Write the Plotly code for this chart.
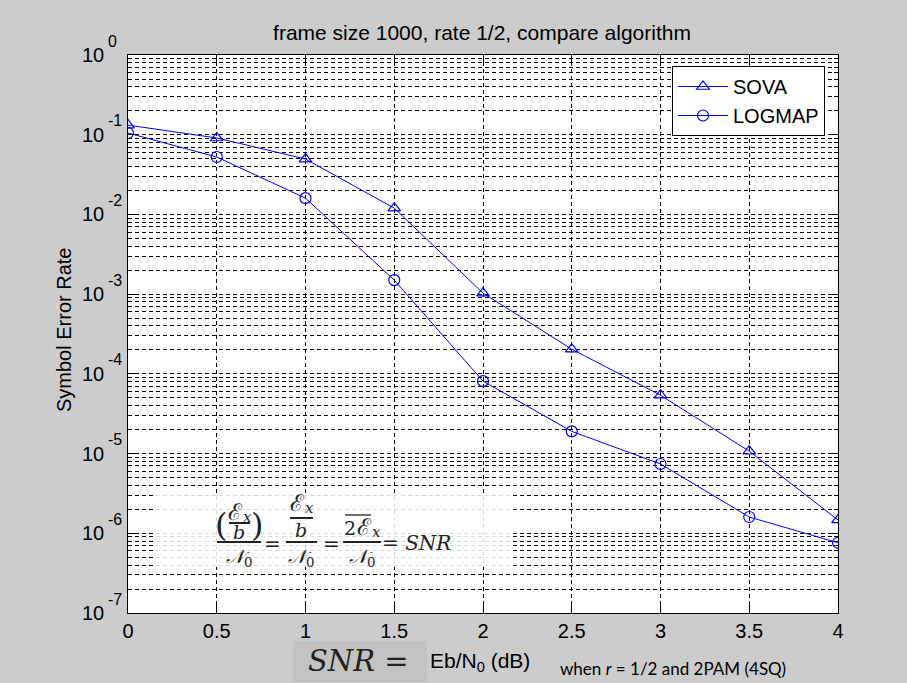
import math
import plotly.graph_objects as go

# ---------------- data ----------------
snr_db = [0, 0.5, 1, 1.5, 2, 2.5, 3, 3.5, 4]
sova = [0.132, 0.091, 0.0495, 0.012, 1.03e-3, 2.04e-4, 5.4e-5, 1.07e-5, 1.47e-6]
logmap = [0.105, 0.0525, 0.016, 1.5e-3, 8.1e-5, 1.9e-5, 7.4e-6, 1.6e-6, 7.6e-7]
series_names = ["SOVA", "LOGMAP"]
x_tick_vals = [0, 0.5, 1, 1.5, 2, 2.5, 3, 3.5, 4]
x_tick_text = ["0", "0.5", "1", "1.5", "2", "2.5", "3", "3.5", "4"]
y_tick_vals = [1e-7, 1e-6, 1e-5, 1e-4, 1e-3, 1e-2, 1e-1, 1]
y_tick_base = "10"
y_exponents = ["-7", "-6", "-5", "-4", "-3", "-2", "-1", "0"]
title_text = "frame size 1000, rate 1/2, compare algorithm"
y_title = "Symbol Error Rate"

W, H = 907, 683
L, R, T, B = 128, 838, 55, 613


def px(x):
    return (x - L) / (R - L)


def py(y):
    return 1 - (y - T) / (B - T)


SANS = "Liberation Sans, Arial, sans-serif"
SERIF = "DejaVu Serif, Liberation Serif, serif"

fig = go.Figure()
fig.add_trace(go.Scatter(x=snr_db, y=sova, name=series_names[0], mode="lines+markers",
                         line=dict(color="#0000ff", width=1),
                         marker=dict(symbol="triangle-up-open", size=11,
                                     color="#0000ff", line=dict(width=1.2, color="#0000ff"))))
fig.add_trace(go.Scatter(x=snr_db, y=logmap, name=series_names[1], mode="lines+markers",
                         line=dict(color="#0000ff", width=1),
                         marker=dict(symbol="circle-open", size=11,
                                     color="#0000ff", line=dict(width=1.2, color="#0000ff"))))

grid_dash = "4px,3px"
fig.update_layout(
    width=W, height=H,
    margin=dict(l=L, r=W - R, t=T, b=H - B, pad=0),
    paper_bgcolor="#cccccc", plot_bgcolor="white",
    font=dict(family=SANS, size=20, color="black"),
    title=dict(text=title_text, x=px(482), xref="paper", xanchor="center",
               y=1 - 33 / H, yref="container", yanchor="middle",
               font=dict(family=SANS, size=21, color="black")),
    showlegend=True,
    legend=dict(x=px(825), y=py(66), xanchor="right", yanchor="top",
                bgcolor="white", bordercolor="black", borderwidth=1,
                font=dict(family=SANS, size=20, color="black"),
                itemwidth=50, tracegroupgap=0),
    xaxis=dict(range=[0, 4], tickvals=x_tick_vals, ticktext=x_tick_text,
               showgrid=True, gridcolor="black", griddash=grid_dash, gridwidth=1,
               showline=True, linecolor="black", linewidth=1, mirror="ticks",
               ticks="inside", ticklen=8, tickcolor="black", zeroline=False,
               automargin=False, tickfont=dict(size=20)),
    yaxis=dict(type="log", range=[-7, 0], tickvals=y_tick_vals, showticklabels=False,
               showgrid=True, gridcolor="black", griddash=grid_dash, gridwidth=1,
               showline=True, linecolor="black", linewidth=1, mirror="ticks",
               ticks="inside", ticklen=8, tickcolor="black", zeroline=False,
               automargin=False,
               minor=dict(dtick="D1", showgrid=True, gridcolor="black",
                          griddash=grid_dash, gridwidth=1, ticks="inside",
                          ticklen=4, tickcolor="black")),
)

ann = []
shapes = []

# y tick labels: "10" + larger superscript exponent, positioned on the y scale
for v, e in zip(y_tick_vals, y_exponents):
    ann.append(dict(text=y_tick_base, x=px(106), xref="paper", y=math.log10(v), yref="y",
                    xanchor="right", yanchor="middle", showarrow=False,
                    font=dict(family=SANS, size=20, color="black")))
    ann.append(dict(text=e, x=px(106), xref="paper", y=math.log10(v), yref="y",
                    xanchor="left", yanchor="middle", yshift=14, showarrow=False,
                    font=dict(family=SANS, size=16, color="black")))

# y axis title
ann.append(dict(text=y_title, x=px(64), y=py(330), xref="paper", yref="paper",
                xanchor="center", yanchor="middle",
                textangle=-90, showarrow=False, font=dict(family=SANS, size=20)))

# formula overlay box (semi-transparent white)
shapes.append(dict(type="rect", xref="paper", yref="paper",
                   x0=px(156), x1=px(512), y0=py(567), y1=py(493),
                   fillcolor="rgba(255,255,255,0.86)", line=dict(width=0), layer="above"))


def txt(s, x, y, size=20, fam=SERIF, **kw):
    ann.append(dict(text=s, x=px(x), y=py(y), xref="paper", yref="paper",
                    showarrow=False, font=dict(family=fam, size=size, color="#222222"),
                    xanchor="center", yanchor="middle", **kw))


def bar(x0, x1, y, w=2):
    shapes.append(dict(type="line", xref="paper", yref="paper",
                       x0=px(x0), x1=px(x1), y0=py(y), y1=py(y),
                       line=dict(color="#222222", width=w), layer="above"))


def ex(x, y):
    txt("ℰ", x - 4, y, size=23)
    txt("<i>x</i>", x + 8, y + 5, size=15)


N0 = "<i>𝒩</i><sub>0</sub>"
# first fraction
txt("(", 221, 525, size=32)
txt(")", 257, 525, size=32)
ex(239, 512)
bar(229, 250, 523)
txt("<i>b</i>", 239, 532, size=19)
bar(217, 261, 542)
txt(N0, 239, 557, size=19)
txt("=", 272, 544, size=20)
# second fraction
ex(301, 503)
bar(290, 313, 518)
txt("<i>b</i>", 301, 530, size=19)
bar(286, 317, 542)
txt(N0, 301, 557, size=19)
txt("=", 331, 544, size=20)
# third fraction
bar(345, 371, 515, w=1.3)
txt("2", 350, 528, size=19)
ex(368, 527)
bar(343, 381, 542)
txt(N0, 362, 557, size=19)
txt("= <i>SNR</i>", 416, 543, size=20)

# bottom annotations
shapes.append(dict(type="rect", xref="paper", yref="paper",
                   x0=px(293), x1=px(427), y0=py(682), y1=py(641),
                   fillcolor="#c2c2c2", line=dict(width=0), layer="above"))
txt("<i>SNR</i> =", 358, 661, size=29)
ann.append(dict(text="Eb/N<sub>0</sub> (dB)", x=px(480), y=py(662), xref="paper", yref="paper",
                showarrow=False, font=dict(family=SANS, size=21, color="black"),
                xanchor="center", yanchor="middle"))
ann.append(dict(text="when <i>r</i> = 1/2 and 2PAM (4SQ)", x=px(673), y=py(668),
                xref="paper", yref="paper", showarrow=False,
                font=dict(family="Lato, Open Sans, sans-serif", size=17, color="black"),
                xanchor="center", yanchor="middle"))

fig.update_layout(annotations=ann, shapes=shapes)
fig.write_html("out.html")
